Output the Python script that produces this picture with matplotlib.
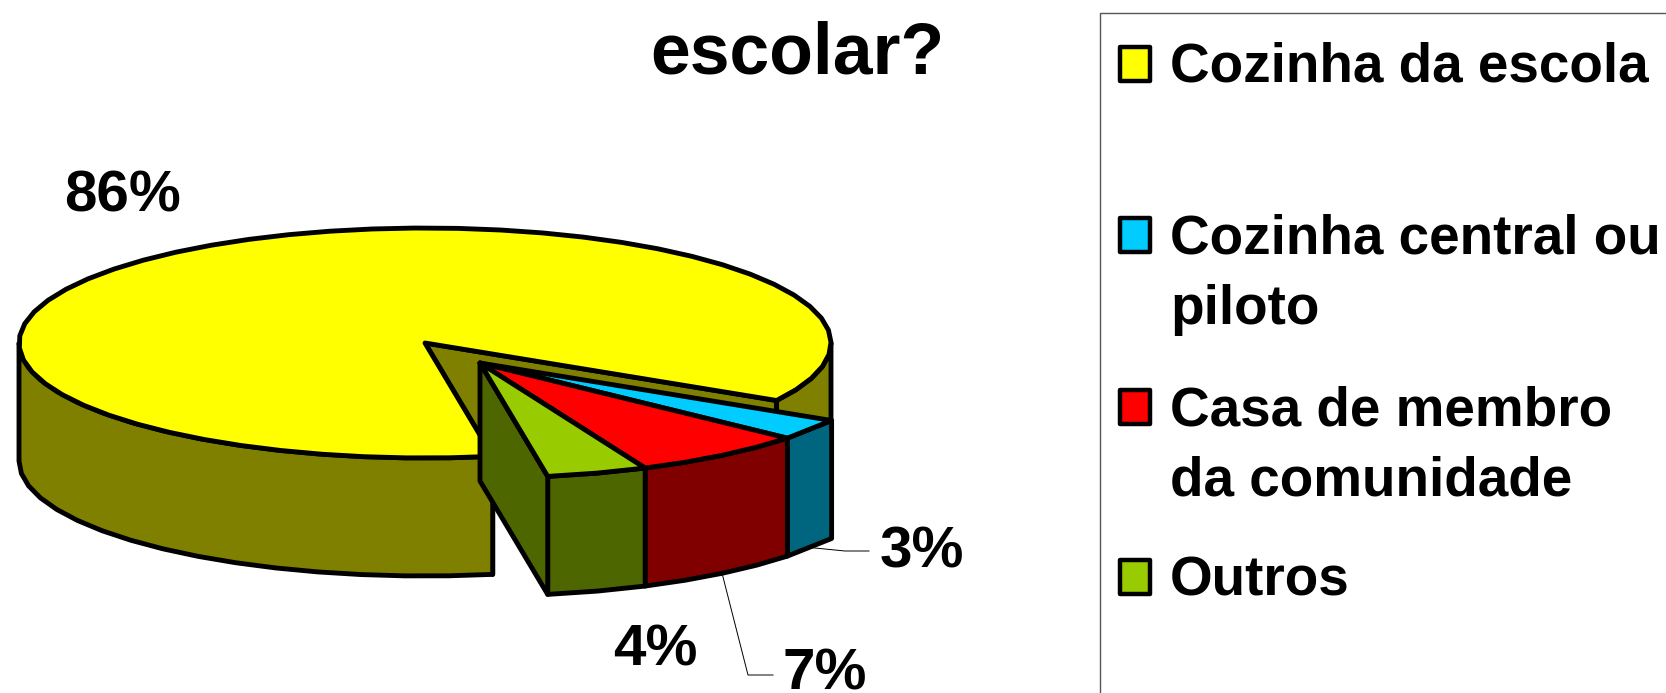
import matplotlib
matplotlib.use("Agg")
import matplotlib.pyplot as plt
import numpy as np
from matplotlib.patches import Polygon, Rectangle

plt.rcParams["font.family"] = ["Liberation Sans", "DejaVu Sans"]
plt.rcParams["font.weight"] = "bold"

# order in the pie, clockwise from the big slice
categories = ["Cozinha da escola", "Cozinha central ou\npiloto", "Casa de membro\nda comunidade", "Outros"]
values = [86, 3, 7, 4]
top_colors = ["#FFFF00", "#00CCFF", "#FF0000", "#99CC00"]
side_colors = ["#808000", "#006680", "#800000", "#4D6600"]

CX, CY = 425, 343
RX, RY = 406, 115
DEPTH = 118
EXPLODE = (55, 20)
START = -30
LW = 3.5


def rim(t0, t1, cx, cy):
    # coarse steps, the original outline is faceted too
    t = np.radians(np.linspace(t0, t1, max(int(abs(t1 - t0) / 6), 1) + 1))
    return np.column_stack([cx + RX * np.cos(t), cy - RY * np.sin(t)])


def add_poly(ax, pts, color):
    ax.add_patch(Polygon(pts, closed=True, facecolor=color, edgecolor="black",
                         linewidth=LW, joinstyle="round"))


def outer_wall(ax, t0, t1, cx, cy, color):
    top = rim(t0, t1, cx, cy)
    add_poly(ax, np.vstack([top, top[::-1] + [0, DEPTH]]), color)


def cut_wall(ax, t, cx, cy, color):
    edge = rim(t, t, cx, cy)[0]
    add_poly(ax, [(cx, cy), edge, edge + [0, DEPTH], (cx, cy + DEPTH)], color)


def top_face(ax, t0, t1, cx, cy, color):
    add_poly(ax, np.vstack([[(cx, cy)], rim(t0, t1, cx, cy)]), color)


fig = plt.figure(figsize=(16.66, 6.93), dpi=100)
ax = fig.add_axes([0, 0, 1, 1])
ax.set_xlim(0, 1666)
ax.set_ylim(693, 0)
ax.axis("off")

# big slice, angles grow counter-clockwise from START
sweeps = np.array(values) * 3.6
big_end = START + sweeps[0]
cut_wall(ax, START, CX, CY, side_colors[0])
cut_wall(ax, big_end, CX, CY, side_colors[0])
outer_wall(ax, START, 0, CX, CY, side_colors[0])
outer_wall(ax, 180, big_end, CX, CY, side_colors[0])
top_face(ax, START, big_end, CX, CY, top_colors[0])

# small slices pulled out together, going clockwise
sx, sy = CX + EXPLODE[0], CY + EXPLODE[1]
edges = START - np.cumsum(sweeps[1:])
starts = np.concatenate([[START], edges[:-1]])
for a, b, col in zip(starts, edges, side_colors[1:]):
    outer_wall(ax, a, b, sx, sy, col)
cut_wall(ax, edges[-1], sx, sy, side_colors[3])
for a, b, col in zip(starts, edges, top_colors[1:]):
    top_face(ax, a, b, sx, sy, col)


def rim_bottom(t):
    return rim(t, t, sx, sy + DEPTH)[0]


# leader lines start at the bottom of the slice rim
p3 = rim_bottom((starts[0] + edges[0]) / 2)
p7 = rim_bottom((starts[1] + edges[1]) / 2)
ax.plot([p3[0], 845, 869], [p3[1], 551, 551], color="black", lw=0.7)
ax.plot([p7[0], 748, 773], [p7[1], 675, 675], color="black", lw=0.7)

for v, x, y in zip(values, [64, 880, 783, 613], [212, 568, 689, 666]):
    ax.text(x, y, f"{v}%", fontsize=42, va="baseline")

ax.text(797, 74, "escolar?", fontsize=51.5, ha="center", va="baseline")

# legend box runs off the picture on the right and at the bottom
ax.add_patch(Rectangle((1100, 13), 700, 800, facecolor="white", edgecolor="#555555", linewidth=1))
swatch_y = [47, 218, 390, 560]
label_y = [82, 253, 425, 595]
for name, col, box_y, ly in zip(categories, top_colors, swatch_y, label_y):
    ax.add_patch(Rectangle((1120, box_y), 30, 34, facecolor=col, edgecolor="black",
                           linewidth=3.2, joinstyle="round"))
    for i, line in enumerate(name.split("\n")):
        ax.text(1170, ly + i * 71, line, fontsize=39.5, va="baseline")

fig.savefig("out.png", dpi=100)
plt.close(fig)
